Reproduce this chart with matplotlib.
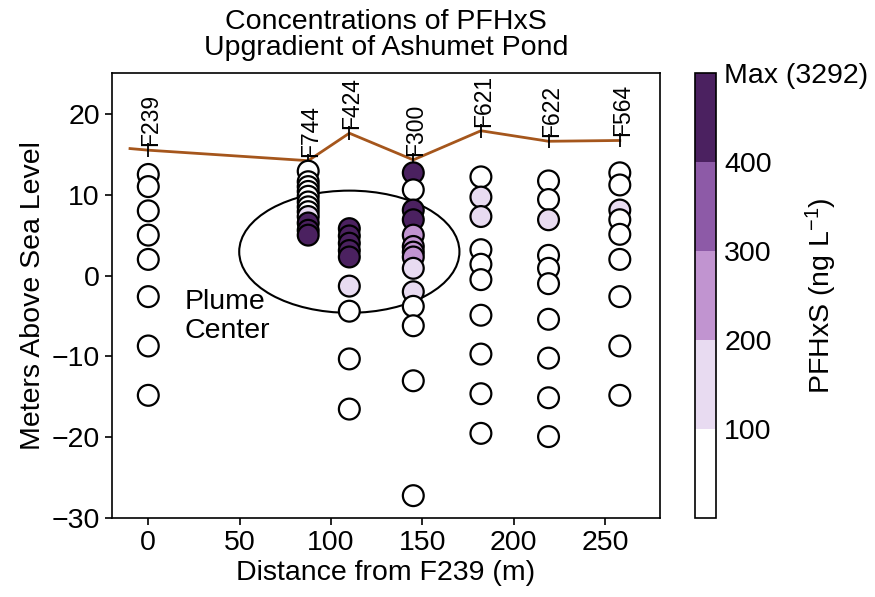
import matplotlib
matplotlib.use('Agg')
from matplotlib import pyplot as plt
from matplotlib.colors import ListedColormap, BoundaryNorm
from matplotlib.cm import ScalarMappable
from matplotlib.patches import Ellipse
import numpy as np

plt.rcParams['font.family'] = ['Liberation Sans', 'DejaVu Sans']
plt.rcParams['mathtext.fontset'] = 'custom'
plt.rcParams['mathtext.rm'] = 'Liberation Sans'
plt.rcParams['mathtext.it'] = 'Liberation Sans:italic'

# wells along the transect
well_names = ['F239', 'F744', 'F424', 'F300', 'F621', 'F622', 'F564']
well_x = [0, 87.5, 110, 145, 182, 219, 258]
well_top = [15.5, 14.2, 17.6, 14.3, 17.9, 16.6, 16.7]

# land surface line
ground_x = [-10, 0, 87.5, 110, 145, 182, 219, 258]
ground_z = [15.7, 15.5, 14.2, 17.6, 14.3, 17.9, 16.6, 16.7]

# sample elevations (m) and PFHxS (ng/L) per well
f239_z = [12.5, 11.0, 8.0, 5.0, 2.0, -2.6, -8.7, -14.8]
f239_c = [20, 15, 25, 30, 40, 10, 5, 5]
f744_z = [12.9, 11.6, 11.0, 10.4, 9.8, 9.1, 8.5, 7.9, 7.3, 6.5, 5.6, 5.0]
f744_c = [30, 40, 50, 45, 60, 55, 70, 80, 150, 600, 1500, 3292]
f424_z = [5.8, 4.9, 4.0, 3.1, 2.3, -1.3, -4.4, -10.3, -16.5]
f424_c = [800, 1200, 900, 700, 500, 150, 60, 20, 10]
f300_z = [12.7, 10.6, 8.1, 6.9, 5.0, 3.6, 2.9, 2.3, 0.9, -2.0, -3.8, -6.2, -13.0, -27.2]
f300_c = [900, 50, 1100, 700, 250, 250, 220, 260, 150, 130, 60, 40, 20, 10]
f621_z = [12.2, 9.7, 7.3, 3.2, 1.4, -0.5, -4.9, -9.7, -14.6, -19.5]
f621_c = [40, 150, 130, 30, 20, 20, 10, 5, 5, 5]
f622_z = [11.7, 9.4, 6.9, 2.5, 0.9, -1.0, -5.4, -10.2, -15.1, -19.9]
f622_c = [30, 50, 120, 20, 20, 15, 10, 5, 5, 5]
f564_z = [12.7, 11.2, 8.1, 6.9, 5.1, 2.0, -2.6, -8.7, -14.8]
f564_c = [20, 30, 110, 40, 30, 20, 10, 5, 5]

samples_z = [f239_z, f744_z, f424_z, f300_z, f621_z, f622_z, f564_z]
samples_c = [f239_c, f744_c, f424_c, f300_c, f621_c, f622_c, f564_c]

bounds = [0, 100, 200, 300, 400, 3292]
bin_colors = ['#ffffff', '#e8dbf1', '#c194d0', '#8d5aa7', '#4b2160']
cbar_labels = ['100', '200', '300', '400', 'Max (3292)']

cmap = ListedColormap(bin_colors)
norm = BoundaryNorm(bounds, cmap.N)

fs = 20.5

fig = plt.figure(figsize=(8.75, 5.97), dpi=100)
ax = fig.add_axes([0.1277, 0.1318, 0.6266, 0.7454])
cax = fig.add_axes([0.7943, 0.1318, 0.024, 0.7454])

ax.add_patch(Ellipse((110, 2.95), 120.5, 15.1, fill=False, edgecolor='black', lw=1.5, zorder=1))

ax.plot(ground_x, ground_z, color='#a5561c', lw=2, zorder=2)
ax.plot(well_x, well_top, ls='none', marker='|', ms=10, mew=1.3, color='black', zorder=3)
for name, x, z in zip(well_names, well_x, well_top):
    ax.text(x + 1.5, z + 0.5, name, rotation=90, ha='center', va='bottom', fontsize=16.5, zorder=4)

for x, zs, cs in zip(well_x, samples_z, samples_c):
    ax.scatter(np.full(len(zs), x), zs, c=cs, cmap=cmap, norm=norm, s=225,
               edgecolors='black', linewidths=1.6, zorder=5)

ax.text(20, -1.6, 'Plume\nCenter', fontsize=fs, ha='left', va='top', linespacing=1.18)

ax.set_xlim(-20, 280)
ax.set_ylim(-30, 25)
ax.set_xticks([0, 50, 100, 150, 200, 250])
ax.set_yticks([-30, -20, -10, 0, 10, 20])
ax.tick_params(labelsize=fs, length=5, width=1.2)
for sp in ax.spines.values():
    sp.set_linewidth(1.2)
ax.set_xlabel('Distance from F239 (m)', fontsize=fs, labelpad=3)
ax.set_ylabel('Meters Above Sea Level', fontsize=fs, labelpad=4)
ax.set_title('Concentrations of PFHxS\nUpgradient of Ashumet Pond', fontsize=fs, pad=13, linespacing=1.0)

cb = fig.colorbar(ScalarMappable(norm=norm, cmap=cmap), cax=cax, spacing='uniform',
                  ticks=bounds[1:])
cb.ax.set_yticklabels(cbar_labels)
cb.ax.minorticks_off()
cb.ax.tick_params(labelsize=fs, length=0, pad=6)
cb.ax.tick_params(which='minor', length=0)
cb.outline.set_linewidth(1.2)
cb.set_label(r'PFHxS (ng L$^{-1}$)', fontsize=fs)
cb.ax.yaxis.label.set_verticalalignment('center')
cb.ax.yaxis.set_label_coords(6.0, 0.5)

fig.savefig('out.png', dpi=100)
